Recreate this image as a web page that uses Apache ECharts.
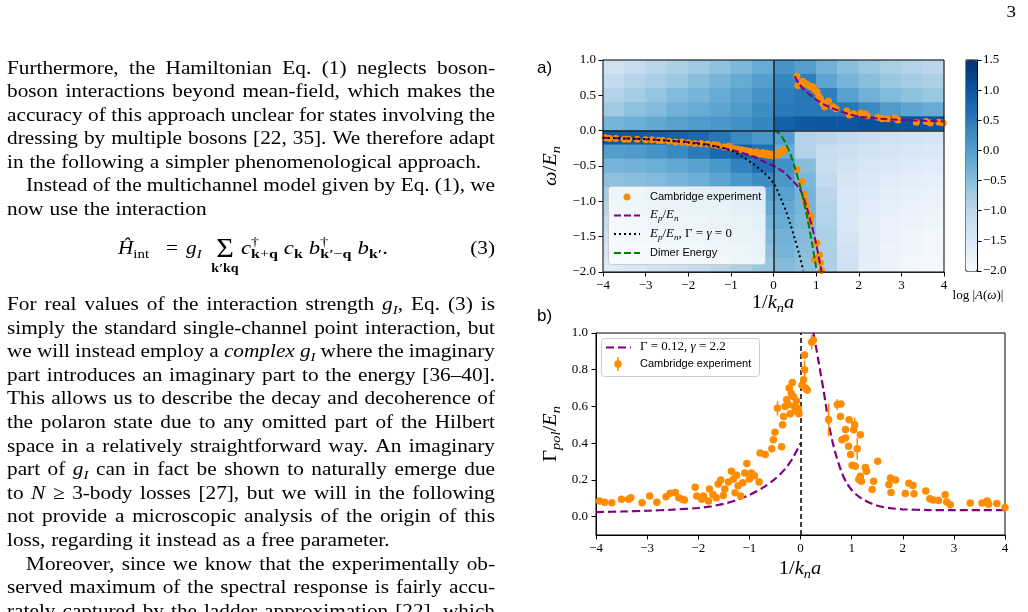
<!DOCTYPE html>
<html>
<head>
<meta charset="utf-8">
<script src="https://cdn.jsdelivr.net/npm/echarts/dist/echarts.min.js"></script>
<style>
  html, body { margin: 0; padding: 0; background: #fff; }
  #main { width: 1028px; height: 612px; }
</style>
</head>
<body>
<div id="main"></div>
<script>
// ---------- panel a) : polaron spectrum ----------
// measured peaks (1/k_n a, omega/E_n)
const attrDots = [[-3.95,-0.10],[-3.85,-0.11],[-3.7,-0.11],[-3.5,-0.12],[-3.4,-0.12],[-3.2,-0.12],[-3.0,-0.13],[-2.85,-0.13],[-2.7,-0.14],[-2.6,-0.14],[-2.45,-0.15],[-2.3,-0.16],[-2.15,-0.16],[-2.0,-0.17],[-1.85,-0.18],[-1.7,-0.18],[-1.55,-0.19],[-1.4,-0.20],[-1.3,-0.21],[-1.15,-0.23],[-1.05,-0.22],[-0.95,-0.25],[-0.85,-0.26],[-0.75,-0.27],[-0.65,-0.28],[-0.55,-0.29],[-0.5,-0.31],[-0.4,-0.30],[-0.35,-0.32],[-0.3,-0.33],[-0.25,-0.31],[-0.2,-0.34],[-0.15,-0.32],[-0.1,-0.35],[-0.05,-0.33],[0,-0.36],[0.05,-0.32],[0.1,-0.34],[0.15,-0.30],[0.2,-0.31],[0.25,-0.27]];
const repDots = [[0.55,0.77],[0.57,0.64],[0.68,0.70],[0.74,0.67],[0.8,0.65],[0.86,0.62],[0.92,0.62],[0.97,0.58],[1.02,0.55],[1.06,0.49],[1.1,0.45],[1.15,0.39],[1.2,0.34],[1.29,0.42],[1.4,0.34],[1.47,0.31],[1.72,0.28],[1.78,0.22],[1.88,0.24],[2.05,0.25],[2.15,0.24],[2.2,0.21],[2.45,0.19],[2.55,0.17],[2.68,0.17],[2.85,0.18],[2.92,0.15],[3.35,0.12],[3.58,0.13],[3.68,0.11],[3.88,0.12],[3.98,0.11]];
const lowDots = [[0.55,-0.55],[0.67,-0.72],[0.72,-0.90],[0.74,-0.99],[0.78,-1.07],[0.82,-1.17],[0.88,-1.21],[0.86,-1.30],[1.02,-1.59],[0.96,-1.82],[1.08,-1.76],[1.10,-1.87],[1.13,-1.98]];
// theory curves
const polAttr = [[-4,-0.10],[-3.5,-0.11],[-3,-0.12],[-2.5,-0.14],[-2,-0.16],[-1.5,-0.20],[-1,-0.27],[-0.75,-0.31],[-0.5,-0.36],[-0.25,-0.43],[0,-0.50],[0.25,-0.59],[0.4,-0.68],[0.6,-0.81],[0.7,-0.94],[0.8,-1.13],[0.9,-1.35],[1.0,-1.60],[1.1,-1.91],[1.13,-2.0]];
const polRep = [[0.5,0.77],[0.6,0.66],[0.75,0.56],[1.0,0.44],[1.25,0.35],[1.5,0.29],[1.75,0.24],[2.0,0.20],[2.5,0.17],[3.0,0.15],[3.5,0.14],[4.0,0.13]];
const polBare = [[-4,-0.10],[-3.5,-0.11],[-3,-0.12],[-2.5,-0.14],[-2,-0.17],[-1.5,-0.21],[-1.0,-0.28],[-0.75,-0.36],[-0.5,-0.46],[-0.25,-0.58],[0,-0.74],[0.1,-0.86],[0.2,-1.0],[0.3,-1.15],[0.4,-1.33],[0.5,-1.53],[0.6,-1.74],[0.7,-1.98]];
const dimer = [[0,0],[0.1,-0.02],[0.2,-0.09],[0.3,-0.2],[0.4,-0.34],[0.5,-0.52],[0.6,-0.73],[0.7,-0.97],[0.8,-1.25],[0.9,-1.58],[1.0,-1.93],[1.02,-2.0]];
// log|A(omega)| background, rows from top (0.9) to bottom (-1.9)
const heatXs = [-3.75,-3.25,-2.75,-2.25,-1.75,-1.25,-0.75,-0.25,0.25,0.75,1.25,1.75,2.25,2.75,3.25,3.75];
const heatYs = [0.9,0.7,0.5,0.3,0.1,-0.1,-0.3,-0.5,-0.7,-0.9,-1.1,-1.3,-1.5,-1.7,-1.9];
const heatRows = [
  [-1.30,-1.15,-1.00,-0.85,-0.70,-0.55,-0.40,-0.20, 0.15, 0.00,-0.30,-0.50,-0.65,-0.80,-0.90,-1.00],
  [-1.10,-0.95,-0.80,-0.65,-0.50,-0.35,-0.20, 0.00, 0.35, 0.45,-0.10,-0.35,-0.50,-0.65,-0.75,-0.85],
  [-0.90,-0.75,-0.60,-0.45,-0.35,-0.20,-0.05, 0.15, 0.45, 0.55, 0.45,-0.05,-0.30,-0.45,-0.55,-0.65],
  [-0.70,-0.55,-0.45,-0.30,-0.20,-0.10, 0.05, 0.25, 0.50, 0.55, 0.55, 0.55, 0.30, 0.05,-0.10,-0.20],
  [-0.35,-0.25,-0.15,-0.05, 0.05, 0.10, 0.20, 0.35, 0.85, 0.95, 1.00, 1.00, 1.05, 1.05, 1.05, 1.05],
  [ 0.95, 0.95, 0.90, 0.85, 0.75, 0.55, 0.30, 0.10, 0.00,-0.90,-1.00,-1.10,-1.20,-1.30,-1.35,-1.40],
  [ 0.00, 0.05, 0.15, 0.30, 0.50, 0.75, 0.85, 0.65,-0.20,-0.90,-1.15,-1.25,-1.35,-1.40,-1.45,-1.50],
  [-0.35,-0.30,-0.25,-0.15,-0.05, 0.10, 0.40, 0.65, 0.20,-0.50,-1.20,-1.35,-1.45,-1.50,-1.55,-1.60],
  [-0.55,-0.50,-0.45,-0.35,-0.25,-0.10, 0.10, 0.25, 0.10,-0.40,-1.10,-1.40,-1.50,-1.60,-1.65,-1.70],
  [-0.75,-0.70,-0.60,-0.50,-0.40,-0.30,-0.15,-0.05,-0.05,-0.35,-1.00,-1.45,-1.55,-1.65,-1.70,-1.75],
  [-0.95,-0.85,-0.75,-0.65,-0.55,-0.45,-0.35,-0.20,-0.15,-0.35,-0.95,-1.45,-1.60,-1.70,-1.75,-1.80],
  [-1.10,-1.00,-0.90,-0.80,-0.70,-0.60,-0.45,-0.35,-0.20,-0.40,-0.90,-1.45,-1.65,-1.75,-1.80,-1.85],
  [-1.25,-1.15,-1.05,-0.95,-0.85,-0.70,-0.55,-0.45,-0.30,-0.45,-0.85,-1.40,-1.65,-1.75,-1.85,-1.90],
  [-1.40,-1.30,-1.20,-1.10,-1.00,-0.85,-0.70,-0.55,-0.35,-0.50,-0.85,-1.35,-1.65,-1.80,-1.85,-1.90],
  [-1.55,-1.45,-1.35,-1.25,-1.10,-1.00,-0.85,-0.65,-0.45,-0.55,-0.85,-1.30,-1.65,-1.80,-1.90,-1.95]
];

// ---------- panel b) : polaron width ----------
// [1/k_n a, Gamma_pol/E_n, error]
const widthPts = [[-3.93,0.085,0.01],[-3.83,0.079,0.01],[-3.69,0.076,0.01],[-3.50,0.094,0.01],[-3.36,0.094,0.01],[-3.32,0.103,0.01],[-3.10,0.076,0.01],[-2.95,0.112,0.01],[-2.81,0.079,0.01],[-2.63,0.108,0.01],[-2.55,0.128,0.01],[-2.45,0.132,0.01],[-2.38,0.103,0.01],[-2.31,0.094,0.01],[-2.27,0.090,0.01],[-2.06,0.160,0.01],[-2.03,0.112,0.01],[-1.93,0.094,0.01],[-1.90,0.112,0.01],[-1.80,0.085,0.01],[-1.78,0.150,0.01],[-1.71,0.121,0.01],[-1.65,0.103,0.01],[-1.61,0.178,0.01],[-1.56,0.200,0.01],[-1.51,0.115,0.01],[-1.48,0.150,0.01],[-1.41,0.188,0.01],[-1.35,0.247,0.015],[-1.31,0.205,0.01],[-1.28,0.130,0.01],[-1.25,0.225,0.01],[-1.22,0.168,0.01],[-1.17,0.112,0.01],[-1.13,0.184,0.01],[-1.09,0.238,0.01],[-1.05,0.290,0.015],[-1.00,0.205,0.01],[-0.96,0.238,0.01],[-0.90,0.222,0.01],[-0.81,0.188,0.01],[-0.79,0.347,0.015],[-0.69,0.338,0.015],[-0.56,0.370,0.015],[-0.53,0.419,0.015],[-0.50,0.460,0.015],[-0.45,0.59,0.04],[-0.37,0.38,0.015],[-0.35,0.50,0.015],[-0.33,0.545,0.015],[-0.30,0.600,0.015],[-0.27,0.636,0.015],[-0.24,0.610,0.015],[-0.22,0.700,0.015],[-0.20,0.560,0.015],[-0.18,0.670,0.015],[-0.16,0.730,0.015],[-0.14,0.654,0.015],[-0.12,0.600,0.015],[-0.10,0.575,0.015],[-0.08,0.630,0.015],[-0.05,0.590,0.015],[-0.03,0.560,0.015],
  [0.03,0.715,0.02],[0.06,0.745,0.02],[0.08,0.80,0.05],[0.10,0.70,0.02],[0.13,0.69,0.02],[0.08,0.88,0.02],[0.22,0.95,0.04],[0.25,0.96,0.02],
  [0.55,0.527,0.09],[0.72,0.61,0.03],[0.79,0.614,0.015],[0.78,0.545,0.015],[0.88,0.475,0.015],[0.95,0.527,0.015],[0.81,0.419,0.015],[0.88,0.428,0.015],[0.94,0.383,0.015],[1.04,0.473,0.015],[1.06,0.50,0.04],[1.17,0.446,0.015],[1.11,0.37,0.06],[0.98,0.338,0.015],[1.01,0.28,0.015],[1.07,0.274,0.015],[1.27,0.268,0.015],[1.29,0.247,0.015],[1.17,0.220,0.015],[1.14,0.202,0.015],[1.19,0.193,0.015],[1.43,0.193,0.015],[1.40,0.148,0.015],[1.51,0.302,0.015],[1.76,0.211,0.015],[1.86,0.200,0.015],[1.73,0.175,0.015],[1.77,0.132,0.015],[2.12,0.182,0.015],[2.20,0.170,0.015],[2.05,0.126,0.015],[2.22,0.125,0.015],[2.45,0.140,0.015],[2.53,0.098,0.01],[2.60,0.090,0.01],[2.70,0.088,0.01],[2.83,0.119,0.01],[2.86,0.080,0.01],[2.93,0.065,0.01],[3.32,0.074,0.01],[3.55,0.074,0.01],[3.65,0.085,0.01],[3.68,0.068,0.01],[3.84,0.072,0.01],[4.0,0.05,0.01]];
const fitLeft = [[-4,0.025],[-3.5,0.028],[-3,0.032],[-2.5,0.038],[-2,0.047],[-1.75,0.056],[-1.5,0.07],[-1.25,0.09],[-1,0.118],[-0.75,0.155],[-0.5,0.205],[-0.3,0.26],[-0.15,0.32],[0,0.40]];
const fitRight = [[0.25,1.0],[0.3,0.93],[0.35,0.85],[0.4,0.77],[0.45,0.69],[0.5,0.60],[0.55,0.51],[0.6,0.44],[0.65,0.38],[0.7,0.33],[0.8,0.245],[0.9,0.185],[1.0,0.145],[1.1,0.118],[1.2,0.098],[1.4,0.07],[1.6,0.053],[1.8,0.045],[2.0,0.04],[2.5,0.036],[3,0.035],[4,0.035]];
const bTicksY = [0, 0.2, 0.4, 0.6, 0.8, 1.0];

const ORANGE = '#ff8c00', PURPLE = '#800080', GREEN = '#008000';
const BLUES = ['#f7fbff','#deebf7','#c6dbef','#9ecae1','#6baed6','#4292c6','#2171b5','#08519c','#08306b'];

// ---------- text helpers ----------
const SERIF = '"Liberation Serif", "Times New Roman", serif';
const SANS = '"Liberation Sans", Arial, sans-serif';
const mctx = document.createElement('canvas').getContext('2d');
function mkFont(sz, it, bold, fam) { return (it ? 'italic ' : '') + (bold ? 'bold ' : '') + sz + 'px ' + (fam || SERIF); }
function tw(t, f) { mctx.font = f; return mctx.measureText(t).width; }

// *italic*  #bold#  _{sub}  ^{sup}
function parseMarkup(s) {
  const out = []; let it = false, bold = false, mode = 0, buf = '';
  const flush = () => { if (buf) out.push({ t: buf, it, bold, mode }); buf = ''; };
  for (let i = 0; i < s.length; i++) {
    const c = s[i];
    if (c === '*') { flush(); it = !it; }
    else if (c === '#') { flush(); bold = !bold; }
    else if ((c === '_' || c === '^') && s[i + 1] === '{') { flush(); mode = c === '_' ? 1 : 2; i++; }
    else if (c === '}' && mode) { flush(); mode = 0; }
    else buf += c;
  }
  flush();
  return out;
}

function runText(s, size, x, y, opt) {
  opt = opt || {};
  const sx = opt.sx || 1;
  const pieces = parseMarkup(s);
  const els = [];
  let cx = x, supStart = null, supEnd = null, prevMode = 0;
  pieces.forEach(p => {
    const sz = p.mode ? size * 0.7 : size;
    const f = mkFont(sz, p.it, p.bold, opt.fam);
    const w = tw(p.t, f) * sx;
    if (p.mode === 1 && prevMode === 2 && supStart !== null) cx = supStart;
    if (p.mode === 2 && prevMode !== 2) supStart = cx;
    const dy = p.mode === 1 ? size * 0.27 : p.mode === 2 ? -size * 0.33 : 0;
    els.push({ type: 'text', x: cx, y: y + dy, scaleX: sx, silent: true, z: opt.z || 10,
      style: { text: p.t, font: f, fill: opt.color || '#000', textVerticalAlign: 'middle' } });
    cx += w;
    if (p.mode === 2) supEnd = cx;
    if (p.mode === 1 && prevMode === 2) cx = Math.max(cx, supEnd);
    prevMode = p.mode;
  });
  return { els, w: cx - x };
}

function placeText(s, size, x, y, align, opt) {
  const w = runText(s, size, 0, 0, opt).w;
  const x0 = align === 'center' ? x - w / 2 : align === 'right' ? x - w : x;
  return runText(s, size, x0, y, opt).els;
}

// ---------- left column ----------
const BODY = 19, BODY_SX = 1.12, COL_L = 7, COL_R = 495, INDENT = 19;
const bodyOpt = { sx: BODY_SX };
const bodyLines = [
  [69, 'Furthermore, the Hamiltonian Eq. (1) neglects boson-', 1, 0],
  [92.5, 'boson interactions beyond mean-field, which makes the', 1, 0],
  [116, 'accuracy of this approach unclear for states involving the', 1, 0],
  [139.5, 'dressing by multiple bosons [22, 35]. We therefore adapt', 1, 0],
  [163, 'in the following a simpler phenomenological approach.', 0, 0],
  [186.5, 'Instead of the multichannel model given by Eq. (1), we', 1, 1],
  [210, 'now use the interaction', 0, 0],
  [305, 'For real values of the interaction strength *g*_{*I*}, Eq. (3) is', 1, 0],
  [328.6, 'simply the standard single-channel point interaction, but', 1, 0],
  [352.2, 'we will instead employ a *complex* *g*_{*I*} where the imaginary', 1, 0],
  [375.8, 'part introduces an imaginary part to the energy [36–40].', 1, 0],
  [399.4, 'This allows us to describe the decay and decoherence of', 1, 0],
  [423, 'the polaron state due to any omitted part of the Hilbert', 1, 0],
  [446.6, 'space in a relatively straightforward way. An imaginary', 1, 0],
  [470.2, 'part of *g*_{*I*} can in fact be shown to naturally emerge due', 1, 0],
  [493.8, 'to *N* ≥ 3-body losses [27], but we will in the following', 1, 0],
  [517.4, 'not provide a microscopic analysis of the origin of this', 1, 0],
  [541, 'loss, regarding it instead as a free parameter.', 0, 0],
  [564.6, 'Moreover, since we know that the experimentally ob-', 1, 1],
  [588.2, 'served maximum of the spectral response is fairly accu-', 1, 0],
  [612.5, 'rately captured by the ladder approximation [22], which', 1, 0]
];

const textEls = [];
bodyLines.forEach(([y, s, just, ind]) => {
  const words = s.split(' ');
  const ws = words.map(w => runText(w, BODY, 0, 0, bodyOpt).w);
  const x0 = COL_L + (ind ? INDENT : 0);
  const total = ws.reduce((a, b) => a + b, 0);
  const gap = just ? (COL_R - x0 - total) / (words.length - 1) : tw(' ', mkFont(BODY)) * BODY_SX * 1.1;
  let x = x0;
  words.forEach((w, i) => { textEls.push(...runText(w, BODY, x, y, bodyOpt).els); x += ws[i] + gap; });
});

// displayed equation (3)
const EQ_Y = 249;
const eqOpt = { sx: 1.2 };
textEls.push(...placeText('*Ĥ*_{int}', BODY, 118, EQ_Y, 'left', bodyOpt));
textEls.push(...placeText('=', BODY, 172, EQ_Y, 'center', bodyOpt));
textEls.push(...placeText('*g*_{*I*}', BODY, 186, EQ_Y, 'left', bodyOpt));
textEls.push(...placeText('Σ', 27, 225, EQ_Y + 1, 'center', bodyOpt));
textEls.push(...placeText('#k′kq#', 12.5, 225, EQ_Y + 20, 'center', bodyOpt));
let eqX = 241;
['*c*^{†}_{#k#+#q#}', '*c*_{#k#}', '*b*^{†}_{#k′#−#q#}', '*b*_{#k′#}.'].forEach(seg => {
  const r = runText(seg, BODY, eqX, EQ_Y, eqOpt);
  textEls.push(...r.els);
  eqX += r.w + 6;
});
textEls.push(...placeText('(3)', BODY, COL_R, EQ_Y, 'right', bodyOpt));

// page number
textEls.push(...placeText('3', 17, 1016, 13, 'right', bodyOpt));

// ---------- figure annotations ----------
const figEls = [];
figEls.push({ type: 'text', x: 537, y: 68, silent: true, z: 10, style: { text: 'a)', font: '17px ' + SANS, fill: '#000', textVerticalAlign: 'middle' } });
figEls.push({ type: 'text', x: 537, y: 316, silent: true, z: 10, style: { text: 'b)', font: '17px ' + SANS, fill: '#000', textVerticalAlign: 'middle' } });
figEls.push({ type: 'group', x: 551, y: 166, rotation: Math.PI / 2, children: placeText('*ω*/*E*_{*n*}', 19, 0, 0, 'center', { sx: 1.08 }) });
figEls.push({ type: 'group', x: 551, y: 434, rotation: Math.PI / 2, children: placeText('Γ_{*pol*}/*E*_{*n*}', 19, 0, 0, 'center', { sx: 1.08 }) });
figEls.push(...placeText('1/*k*_{*n*}*a*', 19, 773, 303, 'center', { sx: 1.08 }));
figEls.push(...placeText('1/*k*_{*n*}*a*', 19, 800, 569, 'center', { sx: 1.08 }));
figEls.push(...placeText('log |*A*(*ω*)|', 13, 978, 296, 'center'));

// legend a
figEls.push({ type: 'rect', z: 20, silent: true, shape: { x: 608.5, y: 186.5, width: 157, height: 78, r: 3 }, style: { fill: 'rgba(255,255,255,0.8)', stroke: '#cccccc', lineWidth: 1 } });
figEls.push({ type: 'circle', z: 21, silent: true, shape: { cx: 627, cy: 197, r: 3.5 }, style: { fill: ORANGE } });
figEls.push({ type: 'text', z: 21, silent: true, x: 650, y: 197, style: { text: 'Cambridge experiment', font: '11px ' + SANS, fill: '#000', textVerticalAlign: 'middle' } });
figEls.push({ type: 'line', z: 21, silent: true, shape: { x1: 614, y1: 215.5, x2: 640, y2: 215.5 }, style: { stroke: PURPLE, lineWidth: 2, lineDash: [7, 3] } });
figEls.push(...placeText('*E*_{*p*}/*E*_{*n*}', 13, 650, 215, 'left', { z: 21 }));
figEls.push({ type: 'line', z: 21, silent: true, shape: { x1: 614, y1: 234, x2: 640, y2: 234 }, style: { stroke: '#000', lineWidth: 2, lineDash: [2, 3] } });
figEls.push(...placeText('*E*_{*p*}/*E*_{*n*}, Γ = *γ* = 0', 13, 650, 234, 'left', { z: 21 }));
figEls.push({ type: 'line', z: 21, silent: true, shape: { x1: 614, y1: 253, x2: 640, y2: 253 }, style: { stroke: GREEN, lineWidth: 2, lineDash: [7, 3] } });
figEls.push({ type: 'text', z: 21, silent: true, x: 650, y: 253, style: { text: 'Dimer Energy', font: '11px ' + SANS, fill: '#000', textVerticalAlign: 'middle' } });

// legend b
figEls.push({ type: 'rect', z: 20, silent: true, shape: { x: 601.5, y: 338.5, width: 158, height: 38, r: 3 }, style: { fill: 'rgba(255,255,255,0.8)', stroke: '#cccccc', lineWidth: 1 } });
figEls.push({ type: 'line', z: 21, silent: true, shape: { x1: 606, y1: 347.5, x2: 631, y2: 347.5 }, style: { stroke: PURPLE, lineWidth: 2.2, lineDash: [8, 4] } });
figEls.push(...placeText('Γ = 0.12, *γ* = 2.2', 13, 640, 347, 'left', { z: 21 }));
figEls.push({ type: 'line', z: 21, silent: true, shape: { x1: 618, y1: 357, x2: 618, y2: 371 }, style: { stroke: ORANGE, lineWidth: 1.5 } });
figEls.push({ type: 'circle', z: 21, silent: true, shape: { cx: 618, cy: 364, r: 3.7 }, style: { fill: ORANGE } });
figEls.push({ type: 'text', z: 21, silent: true, x: 640, y: 364, style: { text: 'Cambridge experiment', font: '11px ' + SANS, fill: '#000', textVerticalAlign: 'middle' } });

// ---------- chart ----------
const heatData = [];
heatRows.forEach((row, r) => row.forEach((v, c) => heatData.push([c, heatYs.length - 1 - r, v])));
const heatYCats = heatYs.slice().reverse().map(String);

const fmtDec = v => (v < 0 ? '−' : '') + Math.abs(v).toFixed(1);
const fmtInt = v => (v < 0 ? '−' : '') + Math.abs(v);
const tickFont = { fontFamily: SERIF, fontSize: 13, color: '#000' };
const axLine = { show: true, onZero: false, lineStyle: { color: '#000', width: 1 } };
const axTick = { show: true, inside: false, length: 4.5, lineStyle: { color: '#000', width: 1 } };

const chart = echarts.init(document.getElementById('main'), null, { renderer: 'canvas' });
chart.setOption({
  animation: false,
  backgroundColor: '#fff',
  grid: [
    { left: 603, top: 60, width: 341, height: 212, show: true, borderColor: '#000', borderWidth: 1, backgroundColor: 'transparent', z: 3 },
    { left: 596, top: 333, width: 409, height: 202, show: true, borderColor: '#000', borderWidth: 1, backgroundColor: 'transparent', z: 3 },
    { left: 966, top: 60, width: 11, height: 211, show: true, borderColor: '#000', borderWidth: 1, backgroundColor: 'transparent', z: 3 }
  ],
  xAxis: [
    { gridIndex: 0, type: 'value', min: -4, max: 4, interval: 1, axisLine: axLine, axisTick: axTick, splitLine: { show: false },
      axisLabel: Object.assign({ margin: 7, formatter: fmtInt }, tickFont) },
    { gridIndex: 0, type: 'category', data: heatXs.map(String), show: false },
    { gridIndex: 1, type: 'value', min: -4, max: 4, interval: 1, axisLine: axLine, axisTick: axTick, splitLine: { show: false },
      axisLabel: Object.assign({ margin: 7, formatter: fmtInt }, tickFont) },
    { gridIndex: 2, type: 'value', min: 0, max: 1, show: false }
  ],
  yAxis: [
    { gridIndex: 0, type: 'value', min: -2, max: 1, interval: 0.5, axisLine: axLine, axisTick: axTick, splitLine: { show: false },
      axisLabel: Object.assign({ margin: 7, formatter: fmtDec }, tickFont) },
    { gridIndex: 0, type: 'category', data: heatYCats, show: false },
    { gridIndex: 1, type: 'value', min: -0.1, max: 1.0, axisLine: axLine, splitLine: { show: false },
      axisTick: Object.assign({ customValues: bTicksY }, axTick),
      axisLabel: Object.assign({ margin: 8, formatter: fmtDec, customValues: bTicksY }, tickFont) },
    { gridIndex: 2, type: 'value', position: 'right', min: -2, max: 1.5, interval: 0.5, axisLine: axLine, axisTick: axTick, splitLine: { show: false },
      axisLabel: Object.assign({ margin: 6, formatter: fmtDec }, tickFont) }
  ],
  visualMap: {
    type: 'continuous', seriesIndex: 0, min: -2, max: 1.5, inRange: { color: BLUES },
    left: 966, top: 60, itemWidth: 11, itemHeight: 211, padding: 0, calculable: false, hoverLink: false, show: true
  },
  graphic: { elements: textEls.concat(figEls) },
  series: [
    { type: 'heatmap', xAxisIndex: 1, yAxisIndex: 1, data: heatData, silent: true, z: 1, progressive: 0,
      itemStyle: { borderWidth: 0 }, emphasis: { disabled: true } },
    { type: 'scatter', name: 'Cambridge experiment', xAxisIndex: 0, yAxisIndex: 0, data: attrDots.concat(repDots, lowDots),
      symbolSize: 7, itemStyle: { color: ORANGE, opacity: 1 }, silent: true, z: 2,
      markLine: { silent: true, symbol: ['none', 'none'], label: { show: false }, animation: false,
        lineStyle: { color: '#222', width: 1.5, type: 'solid' }, data: [{ yAxis: 0 }, { xAxis: 0 }] } },
    { type: 'line', xAxisIndex: 0, yAxisIndex: 0, data: polAttr, symbol: 'none', smooth: 0.3, silent: true, z: 4,
      lineStyle: { color: PURPLE, width: 2, type: [7, 3] } },
    { type: 'line', xAxisIndex: 0, yAxisIndex: 0, data: polRep, symbol: 'none', smooth: 0.3, silent: true, z: 4,
      lineStyle: { color: PURPLE, width: 2, type: [7, 3] } },
    { type: 'line', xAxisIndex: 0, yAxisIndex: 0, data: polBare, symbol: 'none', smooth: 0.3, silent: true, z: 4,
      lineStyle: { color: '#000', width: 2, type: [2, 3] } },
    { type: 'line', xAxisIndex: 0, yAxisIndex: 0, data: dimer, symbol: 'none', smooth: 0.3, silent: true, z: 4,
      lineStyle: { color: GREEN, width: 2, type: [7, 3] } },
    // panel b
    { type: 'line', xAxisIndex: 2, yAxisIndex: 2, data: fitLeft, symbol: 'none', smooth: 0.3, silent: true, z: 4,
      lineStyle: { color: PURPLE, width: 2.2, type: [8, 4] },
      markLine: { silent: true, symbol: ['none', 'none'], label: { show: false }, animation: false,
        lineStyle: { color: '#000', width: 1.5, type: [5, 3] }, data: [{ xAxis: 0 }] } },
    { type: 'line', xAxisIndex: 2, yAxisIndex: 2, data: fitRight, symbol: 'none', smooth: 0.3, silent: true, z: 4,
      lineStyle: { color: PURPLE, width: 2.2, type: [8, 4] } },
    { type: 'custom', xAxisIndex: 2, yAxisIndex: 2, data: widthPts, silent: true, z: 5,
      renderItem: (params, api) => {
        const x = api.value(0), y = api.value(1), e = api.value(2);
        const p1 = api.coord([x, y - e]), p2 = api.coord([x, y + e]);
        return { type: 'line', shape: { x1: p1[0], y1: p1[1], x2: p2[0], y2: p2[1] }, style: { stroke: ORANGE, lineWidth: 1.5 } };
      } },
    { type: 'scatter', xAxisIndex: 2, yAxisIndex: 2, data: widthPts.map(p => [p[0], p[1]]),
      symbolSize: 7.5, itemStyle: { color: ORANGE, opacity: 1 }, silent: true, z: 6 }
  ]
});
</script>
</body>
</html>
